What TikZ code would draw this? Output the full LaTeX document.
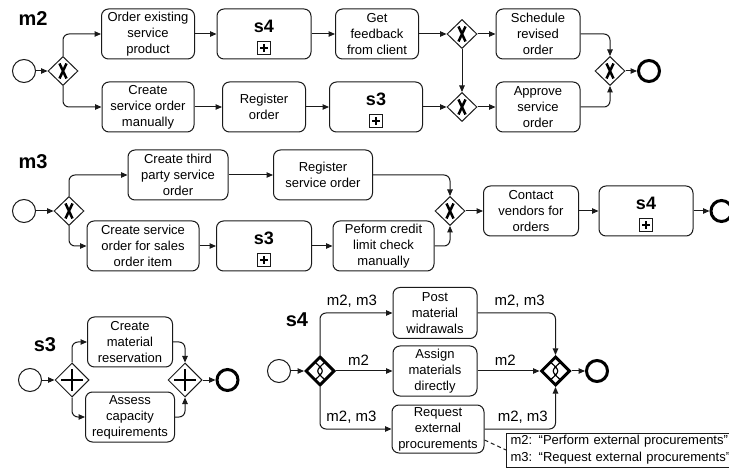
\documentclass[tikz,border=0pt]{standalone}
\usepackage{fontspec}
\setmainfont{Liberation Sans}
\usepackage{tikz}
\usetikzlibrary{positioning,arrows.meta,shapes.geometric}
\definecolor{lineclr}{HTML}{1A1A1A}
\newcommand{\submark}[1]{%
  \draw[lineclr, line width=0.9pt] ([xshift=-6.5pt,yshift=5pt]#1.south) rectangle ([xshift=6.5pt,yshift=18pt]#1.south);
  \draw[black, line width=1.9pt] ([yshift=7.5pt]#1.south) -- ([yshift=15.5pt]#1.south)
    ([xshift=-4pt,yshift=11.5pt]#1.south) -- ([xshift=4pt,yshift=11.5pt]#1.south);
}
\tikzset{
  task/.style={draw=lineclr, line width=1pt, rounded corners=7pt, minimum height=50pt,
    inner sep=0pt, align=center, font=\fontsize{13}{16}\selectfont},
  subproc/.style={task, font=\fontsize{18}{20}\selectfont\bfseries,
    execute at end node={\rule[-15pt]{0pt}{0pt}}},
  startev/.style={circle, draw=lineclr, line width=1pt, minimum size=23pt, inner sep=0pt},
  endev/.style={circle, draw=black, line width=3pt, minimum size=21pt, inner sep=0pt},
  xgate/.style={diamond, draw=lineclr, line width=1pt, minimum width=30pt, minimum height=29pt,
    inner sep=0pt,
    path picture={\draw[black, line width=2.5pt, shift={(path picture bounding box.center)}]
      (-3.5pt,-7.5pt) -- (3.5pt,7.5pt) (-3.5pt,7.5pt) -- (3.5pt,-7.5pt);}},
  pgate/.style={diamond, draw=lineclr, line width=1pt, minimum width=34pt, minimum height=34pt,
    inner sep=0pt,
    path picture={\draw[black, line width=2.8pt, shift={(path picture bounding box.center)}]
      (-11pt,0pt) -- (11pt,0pt) (0pt,-11pt) -- (0pt,11pt);}},
  cgate/.style={diamond, draw=black, line width=3pt, minimum width=29pt, minimum height=29pt,
    inner sep=0pt,
    path picture={\draw[black, line width=1.2pt, shift={(path picture bounding box.center)}]
      (-4.5pt,-8.5pt) .. controls (4.5pt,0pt) .. (-4.5pt,8.5pt)
      (4.5pt,-8.5pt) .. controls (-4.5pt,0pt) .. (4.5pt,8.5pt);}},
  flow/.style={draw=lineclr, line width=1pt, rounded corners=6pt,
    -{Triangle[length=6.5pt,width=5.5pt]}},
  assoc/.style={draw=lineclr, line width=1pt, dash pattern=on 4pt off 3pt},
  elbl/.style={font=\fontsize{15}{17}\selectfont, inner sep=1pt, above=4pt},
  seclbl/.style={font=\fontsize{20}{22}\selectfont\bfseries, inner sep=0pt},
  note/.style={draw=lineclr, line width=1pt, anchor=west, text width=226pt, inner xsep=4pt,
    inner ysep=0pt, minimum height=34pt, align=left, font=\fontsize{13}{17}\selectfont},
}

\begin{document}
\begin{tikzpicture}[x=1pt, y=-1pt]
  \useasboundingbox (0,0) rectangle (729,473);
  % m2
  \node[seclbl] (m2lbl) at (33,19) {m2};
  \node[startev] (m2s) at (24,71) {};
  \node[xgate] (m2g1) at (63,71) {};
  \node[task, minimum width=93pt] (m2t1) at (148,34) {Order existing\\service\\product};
  \node[subproc, minimum width=94pt] (m2p1) at (264,34) {s4};
  \node[task, minimum width=83pt] (m2t2) at (377,34) {Get\\feedback\\from client};
  \node[xgate] (m2g2) at (462,34) {};
  \node[task, minimum width=84pt] (m2t3) at (538,34) {Schedule\\revised\\order};
  \node[task, minimum width=92pt] (m2t4) at (148,107) {Create\\service order\\manually};
  \node[task, minimum width=83pt] (m2t5) at (264,107) {Register\\order};
  \node[subproc, minimum width=93pt] (m2p2) at (376,107) {s3};
  \node[xgate] (m2g3) at (462,107) {};
  \node[task, minimum width=84pt] (m2t6) at (538,107) {Approve\\service\\order};
  \node[xgate] (m2g4) at (610,71) {};
  \node[endev] (m2e) at (649,71) {};
  \submark{m2p1}
  \submark{m2p2}
  \draw[flow] (m2s) -- (m2g1);
  \draw[flow] (m2g1.north) |- (m2t1.west);
  \draw[flow] (m2g1.south) |- (m2t4.west);
  \draw[flow] (m2t1) -- (m2p1);
  \draw[flow] (m2p1) -- (m2t2);
  \draw[flow] (m2t2) -- (m2g2);
  \draw[flow] (m2g2) -- (m2t3);
  \draw[flow] (m2g2) -- (m2g3);
  \draw[flow] (m2t4) -- (m2t5);
  \draw[flow] (m2t5) -- (m2p2);
  \draw[flow] (m2p2) -- (m2g3);
  \draw[flow] (m2g3) -- (m2t6);
  \draw[flow] (m2t3.east) -| (m2g4.north);
  \draw[flow] (m2t6.east) -| (m2g4.south);
  \draw[flow] (m2g4) -- (m2e);
  % m3
  \node[seclbl] (m3lbl) at (33,162) {m3};
  \node[startev] (m3s) at (24,211) {};
  \node[xgate] (m3g1) at (69,211) {};
  \node[task, minimum width=100pt] (m3t1) at (178,175) {Create third\\party service\\order};
  \node[task, minimum width=99pt] (m3t2) at (323,175) {Register\\service order};
  \node[task, minimum width=112pt] (m3t3) at (143,246) {Create service\\order for sales\\order item};
  \node[subproc, minimum width=95pt] (m3p1) at (264,246) {s3};
  \node[task, minimum width=101pt] (m3t4) at (383.5,246) {Peform credit\\limit check\\manually};
  \node[xgate] (m3g2) at (450,211) {};
  \node[task, minimum width=95pt] (m3t5) at (531,211) {Contact\\vendors for\\orders};
  \node[subproc, minimum width=94pt] (m3p2) at (646,211) {s4};
  \node[endev] (m3e) at (721.5,211) {};
  \submark{m3p1}
  \submark{m3p2}
  \draw[flow] (m3s) -- (m3g1);
  \draw[flow] (m3g1.north) |- (m3t1.west);
  \draw[flow] (m3g1.south) |- (m3t3.west);
  \draw[flow] (m3t1) -- (m3t2);
  \draw[flow] (m3t2.east) -| (m3g2.north);
  \draw[flow] (m3t3) -- (m3p1);
  \draw[flow] (m3p1) -- (m3t4);
  \draw[flow] (m3t4.east) -| (m3g2.south);
  \draw[flow] (m3g2) -- (m3t5);
  \draw[flow] (m3t5) -- (m3p2);
  \draw[flow] (m3p2) -- (m3e);
  % s3
  \node[seclbl] (s3lbl) at (45,345) {s3};
  \node[startev] (s3s) at (30,380) {};
  \node[pgate] (s3g1) at (72,380) {};
  \node[task, minimum width=85pt] (s3t1) at (130,342) {Create\\material\\reservation};
  \node[task, minimum width=89pt] (s3t2) at (130,417) {Assess\\capacity\\requirements};
  \node[pgate] (s3g2) at (185,380) {};
  \node[endev] (s3e) at (227.5,380) {};
  \draw[flow] (s3s) -- (s3g1);
  \draw[flow] (s3g1.north) |- (s3t1.west);
  \draw[flow] (s3g1.south) |- (s3t2.west);
  \draw[flow] (s3t1.east) -| (s3g2.north);
  \draw[flow] (s3t2.east) -| (s3g2.south);
  \draw[flow] (s3g2) -- (s3e);
  % s4
  \node[seclbl] (s4lbl) at (297,320) {s4};
  \node[startev] (s4s) at (279,371) {};
  \node[cgate] (s4g1) at (320,371) {};
  \node[task, minimum width=84pt, minimum height=51pt] (s4t1) at (435,313) {Post\\material\\widrawals};
  \node[task, minimum width=84pt] (s4t2) at (435,371) {Assign\\materials\\directly};
  \node[task, minimum width=92pt, minimum height=48pt] (s4t3) at (438,429) {Request\\external\\procurements};
  \node[cgate] (s4g2) at (555.5,371) {};
  \node[endev] (s4e) at (597,371) {};
  \node[note] (s4note) at (506,450) {m2: “Perform external procurements”\\m3: “Request external procurements”};
  \draw[flow] (s4s) -- (s4g1);
  \draw[flow] (s4g1.north) |- node[elbl, pos=0.72] {m2, m3} (s4t1.west);
  \draw[flow] (s4g1) -- node[elbl, pos=0.4] {m2} (s4t2);
  \draw[flow] (s4g1.south) |- node[elbl, pos=0.72] {m2, m3} (s4t3.west);
  \draw[flow] (s4t1.east) -| node[elbl, pos=0.27] {m2, m3} (s4g2.north);
  \draw[flow] (s4t2) -- node[elbl, pos=0.45] {m2} (s4g2);
  \draw[flow] (s4t3.east) -| node[elbl, pos=0.27] {m2, m3} (s4g2.south);
  \draw[flow] (s4g2) -- (s4e);
  \draw[assoc] ([yshift=-11pt]s4t3.east) -- (s4note.west);
\end{tikzpicture}
\end{document}
